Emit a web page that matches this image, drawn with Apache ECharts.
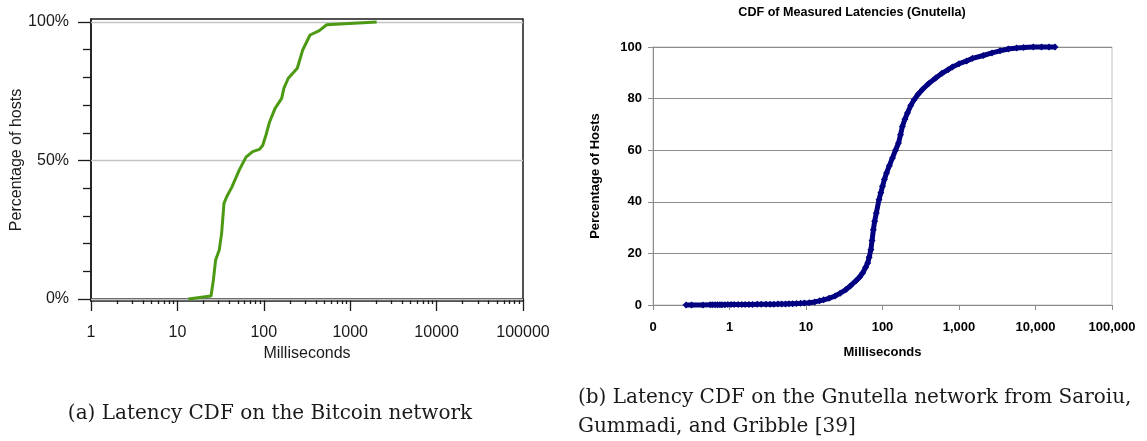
<!DOCTYPE html>
<html>
<head>
<meta charset="utf-8">
<title>Latency CDFs</title>
<script src="https://cdn.jsdelivr.net/npm/echarts@6/dist/echarts.min.js"></script>
<style>
  html, body { margin: 0; padding: 0; background: #ffffff; }
  #chart { width: 1147px; height: 441px; }
</style>
</head>
<body>
<div id="chart"></div>
<script>
// (a) Bitcoin latency CDF: latency in ms and cumulative share of hosts (%)
const bitcoinMs  = [13.4, 24.5, 26.1, 27.7, 30.5, 32.5, 34.6, 37.2, 42.5, 52.1, 62.2, 74.3, 88.7, 97, 106, 116, 135, 161, 171, 192, 244, 282, 343, 439, 534, 2024];
const bitcoinPct = [0, 1.1, 6.9, 14.1, 17.7, 23.7, 34.5, 36.9, 40.3, 46.6, 51.2, 53.2, 54.0, 55.4, 59.2, 63.7, 68.8, 72.4, 76.1, 79.7, 83.3, 89.9, 95.3, 96.9, 99.0, 100];

// (b) Gnutella latency CDF (Saroiu, Gummadi, Gribble)
const gnutellaMs  = [0.27, 0.32, 0.45, 0.56, 0.6, 0.65, 0.7, 0.75, 0.8, 0.87, 0.95, 1.05, 1.15, 1.3, 1.45, 1.6, 1.8, 2.0, 2.3, 2.6, 3.0, 3.4, 3.8, 4.3, 4.8, 5.4, 6.0, 6.7, 7.5, 8.5, 9.5, 11, 13, 15, 17, 20, 24, 28, 33, 38, 45, 50, 55, 60, 64, 67, 70.5, 73, 76, 79, 83, 90, 95, 100, 106, 113, 123, 135, 148, 162, 172, 182, 196, 212, 234, 259, 292, 332, 400, 496, 600, 720, 818, 1000, 1260, 1500, 2080, 2700, 3440, 4400, 5680, 7000, 9350, 12000, 15000, 18000];
const gnutellaPct = [0, 0, 0, 0.05, 0.05, 0.1, 0.1, 0.1, 0.1, 0.1, 0.15, 0.15, 0.15, 0.15, 0.2, 0.2, 0.2, 0.2, 0.25, 0.25, 0.3, 0.3, 0.3, 0.35, 0.4, 0.4, 0.45, 0.5, 0.55, 0.65, 0.75, 0.9, 1.2, 1.6, 2.0, 2.6, 3.5, 4.6, 5.9, 7.4, 9.4, 10.8, 12.4, 14.5, 16.3, 18.5, 21.4, 25, 29.2, 32.5, 35.7, 40.8, 43.5, 46, 48.7, 51.2, 54, 57, 60, 62.8, 66, 69.2, 72, 74.4, 77.3, 79.6, 81.7, 83.5, 85.8, 88, 89.8, 91.2, 92.2, 93.5, 94.6, 95.6, 96.7, 97.7, 98.5, 99.2, 99.6, 99.8, 100, 100, 100, 100];

// Tick values
const leftMajorX  = [1, 10, 100, 1000, 10000, 100000];
const leftMinorX  = [2, 3, 4, 5, 6, 7, 8, 9, 20, 30, 40, 50, 60, 70, 80, 90, 200, 300, 400, 500, 600, 700, 800, 900, 2000, 3000, 4000, 5000, 6000, 7000, 8000, 9000, 20000, 30000, 40000, 50000, 60000, 70000, 80000, 90000];
const leftMajorY  = [0, 50, 100];
const leftMinorY  = [10, 20, 30, 40, 60, 70, 80, 90];
const rightTicksX = [0.1, 1, 10, 100, 1000, 10000, 100000];
const rightTickLabels = ['0', '1', '10', '100', '1,000', '10,000', '100,000'];

const sans = 'Liberation Sans, Arial, Helvetica, sans-serif';
const serif = 'DejaVu Serif, serif';

const zip = (xs, ys) => xs.map((x, i) => [x, ys[i]]);

const chart = echarts.init(document.getElementById('chart'), null, { renderer: 'canvas' });

const leftLabel = { fontFamily: sans, fontSize: 16, color: '#1a1a1a' };
const rightLabel = { fontFamily: sans, fontSize: 13, fontWeight: 'bold', color: '#000' };

chart.setOption({
  animation: false,
  backgroundColor: '#ffffff',
  grid: [
    { left: 91, top: 19, width: 432, height: 282, show: true, borderColor: '#1a1a1a', borderWidth: 1.5, backgroundColor: 'transparent' },
    { left: 653, top: 47, width: 459, height: 258, show: true, borderColor: '#c0c0c0', borderWidth: 1, backgroundColor: 'transparent' }
  ],
  xAxis: [
    {
      gridIndex: 0, type: 'log', logBase: 10, min: 1, max: 100000, position: 'bottom',
      name: 'Milliseconds', nameLocation: 'middle', nameGap: 45,
      nameTextStyle: { fontFamily: sans, fontSize: 16, color: '#1a1a1a' },
      axisLine: { show: true, lineStyle: { color: '#1a1a1a', width: 1.5 } },
      axisTick: { show: true, length: 12, lineStyle: { color: '#1a1a1a', width: 1.3 }, customValues: leftMajorX },
      axisLabel: Object.assign({ margin: 24, customValues: leftMajorX, formatter: v => String(Math.round(v)) }, leftLabel),
      splitLine: { show: false }, minorTick: { show: false }
    },
    {
      gridIndex: 0, type: 'log', logBase: 10, min: 1, max: 100000, position: 'bottom',
      axisLine: { show: false },
      axisTick: { show: true, length: 5, lineStyle: { color: '#1a1a1a', width: 1.3 }, customValues: leftMinorX },
      axisLabel: { show: false },
      splitLine: { show: false }
    },
    {
      gridIndex: 1, type: 'log', logBase: 10, min: 0.1, max: 100000, position: 'bottom',
      name: 'Milliseconds', nameLocation: 'middle', nameGap: 41,
      nameTextStyle: { fontFamily: sans, fontSize: 13, fontWeight: 'bold', color: '#000' },
      axisLine: { show: true, lineStyle: { color: '#8c8c8c', width: 1 } },
      axisTick: { show: true, length: 5, lineStyle: { color: '#8c8c8c', width: 1 }, customValues: rightTicksX },
      axisLabel: Object.assign({
        margin: 16, customValues: rightTicksX,
        formatter: v => rightTickLabels[rightTicksX.findIndex(t => Math.abs(Math.log10(t) - Math.log10(v)) < 1e-6)] || ''
      }, rightLabel),
      splitLine: { show: false }
    }
  ],
  yAxis: [
    {
      gridIndex: 0, type: 'value', min: -0.72, max: 101.08, position: 'left',
      name: 'Percentage of hosts', nameLocation: 'middle', nameRotate: 90, nameGap: 64,
      nameTextStyle: { fontFamily: sans, fontSize: 16, color: '#1a1a1a' },
      axisLine: { show: true, lineStyle: { color: '#1a1a1a', width: 1.5 } },
      axisTick: { show: true, length: 13, lineStyle: { color: '#1a1a1a', width: 1.3 }, customValues: leftMajorY },
      axisLabel: Object.assign({ margin: 22, customValues: leftMajorY, formatter: v => Math.round(v) + '%' }, leftLabel),
      splitLine: { show: false }
    },
    {
      gridIndex: 0, type: 'value', min: -0.72, max: 101.08, position: 'left',
      axisLine: { show: false },
      axisTick: { show: true, length: 8, lineStyle: { color: '#1a1a1a', width: 1.3 }, customValues: leftMinorY },
      axisLabel: { show: false },
      splitLine: { show: false }
    },
    {
      gridIndex: 1, type: 'value', min: 0, max: 100, interval: 20, position: 'left',
      name: 'Percentage of Hosts', nameLocation: 'middle', nameRotate: 90, nameGap: 51,
      nameTextStyle: { fontFamily: sans, fontSize: 13, fontWeight: 'bold', color: '#000' },
      axisLine: { show: true, lineStyle: { color: '#8c8c8c', width: 1 } },
      axisTick: { show: true, length: 5, lineStyle: { color: '#8c8c8c', width: 1 } },
      axisLabel: Object.assign({ margin: 11 }, rightLabel),
      splitLine: { show: true, lineStyle: { color: '#8c8c8c', width: 1 } }
    }
  ],
  series: [
    {
      name: 'Bitcoin', type: 'line', xAxisIndex: 0, yAxisIndex: 0,
      data: zip(bitcoinMs, bitcoinPct),
      showSymbol: false, smooth: false,
      lineStyle: { color: '#4c9a14', width: 3 },
      z: 3,
      markLine: {
        silent: true, symbol: ['none', 'none'], label: { show: false },
        lineStyle: { color: '#c4c4c4', width: 1.3, type: 'solid' },
        data: leftMajorY.map(v => ({ yAxis: v })),
        z: 1
      }
    },
    {
      name: 'Gnutella', type: 'line', xAxisIndex: 2, yAxisIndex: 2,
      data: zip(gnutellaMs, gnutellaPct),
      showSymbol: true, showAllSymbol: true, symbol: 'diamond', symbolSize: 7,
      itemStyle: { color: '#000080' },
      lineStyle: { color: '#000080', width: 5 },
      smooth: false, clip: false
    }
  ],
  graphic: [
    {
      type: 'text', x: 852, y: 13,
      style: { text: 'CDF of Measured Latencies (Gnutella)', font: 'bold 12.6px ' + sans, fill: '#000', align: 'center', verticalAlign: 'middle' }
    },
    {
      type: 'text', x: 270, y: 414,
      style: { text: '(a) Latency CDF on the Bitcoin network', font: '20px ' + serif, fill: '#1a1a1a', align: 'center', verticalAlign: 'middle' }
    },
    {
      type: 'text', x: 578, y: 398,
      style: { text: '(b) Latency CDF on the Gnutella network from Saroiu,', font: '20px ' + serif, fill: '#1a1a1a', align: 'left', verticalAlign: 'middle' }
    },
    {
      type: 'text', x: 578, y: 427,
      style: { text: 'Gummadi, and Gribble [39]', font: '20px ' + serif, fill: '#1a1a1a', align: 'left', verticalAlign: 'middle' }
    }
  ]
});
</script>
</body>
</html>
